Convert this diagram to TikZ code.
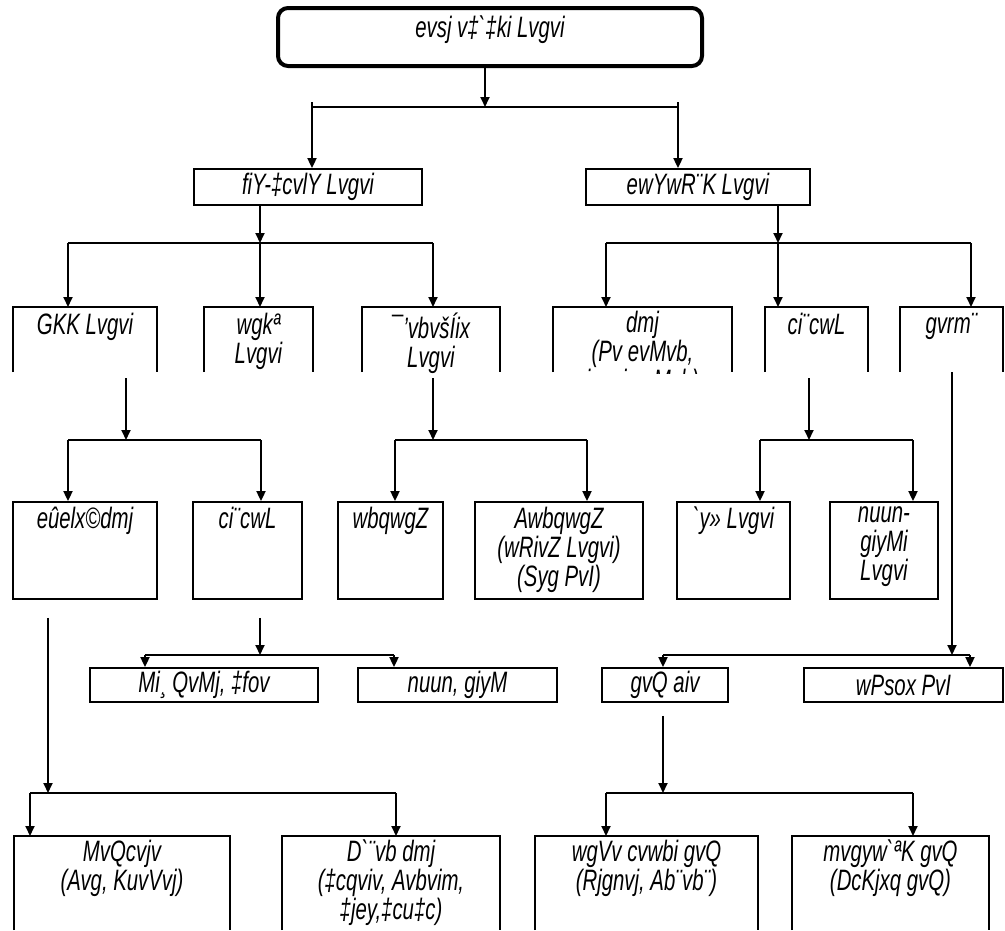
\documentclass[tikz,border=0pt]{standalone}
\usepackage{fontspec}
\newfontfamily\khamarfont{Liberation Sans}[FakeStretch=0.69,Ligatures=TeXOff]
\usetikzlibrary{arrows.meta}

\begin{document}
\begin{tikzpicture}[
    x=1pt, y=-1pt,
    every node/.style={font=\khamarfont\itshape\fontsize{29.5}{29}\selectfont},
    frame/.style={draw, line width=1.8pt, inner sep=0pt, align=center},
    openbox/.style={inner sep=0pt, outer sep=0pt},
    caption/.style={anchor=north, align=center, inner sep=0pt, inner ysep=5.5pt, execute at begin node=\strut},
    flow/.style={-{Triangle[length=10pt,width=9pt]}, line width=1.8pt},
    edge/.style={line width=1.8pt}
]
\useasboundingbox (0,0) rectangle (1005,930);

% top
\node[frame, line width=4pt, rounded corners=10pt, minimum width=424pt, minimum height=58pt] (desh) at (490,37) {};
\node[caption, inner ysep=10pt] at (desh.north) {evsj v‡`‡ki Lvgvi};

% level 2
\node[frame, minimum width=228pt, minimum height=36pt] (bhoron) at (308,187) {fiY-‡cvlY Lvgvi};
\node[frame, minimum width=224pt, minimum height=36pt] (banijjik) at (698,187) {ewYwR¨K Lvgvi};

% level 3 (open at the bottom)
\node[openbox, minimum width=144pt, minimum height=65pt] (ekok) at (85,339.5) {};
\node[openbox, minimum width=109pt, minimum height=65pt] (mishro) at (258.5,339.5) {};
\node[openbox, minimum width=138pt, minimum height=65pt] (sthan) at (431,339.5) {};
\node[openbox, minimum width=179pt, minimum height=65pt] (fosol) at (642.5,339.5) {};
\node[openbox, minimum width=103pt, minimum height=65pt] (poshu) at (816.5,339.5) {};
\node[openbox, minimum width=103pt, minimum height=65pt] (matsya) at (951.5,339.5) {};
\begin{scope}
\clip (0,0) rectangle (1005,373);
\node[caption] at (ekok.north) {GKK Lvgvi};
\node[caption] at (mishro.north) {wgkª\\Lvgvi};
\node[caption] at (sthan.north) {¯’vbvšÍix\\Lvgvi};
\node[caption, inner ysep=4pt] at (fosol.north) {dmj\\(Pv evMvb,\\ivevi evMvb)};
\node[caption] at (poshu.north) {ci¨cwL};
\node[caption] at (matsya.north) {gvrm¨};
\end{scope}

% level 4
\node[frame, minimum width=144pt, minimum height=97pt] (bohu) at (85,550.5) {};
\node[frame, minimum width=109pt, minimum height=97pt] (pranee) at (247.5,550.5) {};
\node[frame, minimum width=105pt, minimum height=97pt] (niyom) at (390.5,550.5) {};
\node[frame, minimum width=168pt, minimum height=97pt] (oniyom) at (559,550.5) {};
\node[frame, minimum width=113pt, minimum height=97pt] (dugdho) at (733.5,550.5) {};
\node[frame, minimum width=108pt, minimum height=97pt] (hash) at (884,550.5) {};
\node[caption] at (bohu.north) {eûelx©dmj};
\node[caption] at (pranee.north) {ci¨cwL};
\node[caption] at (niyom.north) {wbqwgZ};
\node[caption] at (oniyom.north) {AwbqwgZ\\(wRivZ Lvgvi)\\(Syg PvI)};
\node[caption] at (dugdho.north) {`y» Lvgvi};
\node[caption] at (hash.north) {nuun-\\giyMi\\Lvgvi};

% level 5
\node[frame, minimum width=228pt, minimum height=34pt] (gobadi) at (204,685) {Mi¸ QvMj, ‡fov};
\node[frame, minimum width=199pt, minimum height=34pt] (murgi) at (457.5,685) {nuun, giyM};
\node[frame, minimum width=126pt, minimum height=34pt] (dhora) at (665,685) {gvQ aiv};
\node[frame, minimum width=199pt, minimum height=34pt] (chingri) at (903.5,685) {wPsox PvI};

% level 6 (open at the bottom)
\node[openbox, minimum width=216pt, minimum height=94pt] (gach) at (122,883) {};
\node[openbox, minimum width=218pt, minimum height=94pt] (udyan) at (391,883) {};
\node[openbox, minimum width=223pt, minimum height=94pt] (mitha) at (646.5,883) {};
\node[openbox, minimum width=197pt, minimum height=94pt] (samudrik) at (890.5,883) {};
\node[caption, inner ysep=4pt] at (gach.north) {MvQcvjv\\(Avg, KuvVvj)};
\node[caption, inner ysep=4pt] at (udyan.north) {D`¨vb dmj\\(‡cqviv, Avbvim,\\‡jey,‡cu‡c)};
\node[caption, inner ysep=4pt] at (mitha.north) {wgVv cvwbi gvQ\\(Rjgnvj, Ab¨vb¨)};
\node[caption, inner ysep=4pt] at (samudrik.north) {mvgyw`ªK gvQ\\(DcKjxq gvQ)};

\foreach \n in {ekok,mishro,sthan,fosol,poshu,matsya,gach,udyan,mitha,samudrik}
  \draw[edge] (\n.south west) |- (\n.north east) -- (\n.south east);

% junctions
\coordinate (j1) at (485,107);  \coordinate (j1l) at (312,107); \coordinate (j1r) at (678,107);
\coordinate (j2) at (260,243);  \coordinate (j2l) at (68,243);  \coordinate (j2r) at (433,243);
\coordinate (j3) at (778,243);  \coordinate (j3l) at (606,243); \coordinate (j3r) at (971,243);
\coordinate (j4) at (126,440);  \coordinate (j4l) at (68,440);  \coordinate (j4r) at (261,440);
\coordinate (j5) at (433,440);  \coordinate (j5l) at (395,440); \coordinate (j5r) at (587,440);
\coordinate (j6) at (809,440);  \coordinate (j6l) at (760,440); \coordinate (j6r) at (913,440);
\coordinate (j7) at (952,655);  \coordinate (j7l) at (663,655); \coordinate (j7r) at (970,655);
\coordinate (j8) at (260,655);  \coordinate (j8l) at (145,655); \coordinate (j8r) at (394,655);
\coordinate (j9) at (48,793);   \coordinate (j9l) at (30,793);  \coordinate (j9r) at (396,793);
\coordinate (j10) at (663,793); \coordinate (j10l) at (606,793); \coordinate (j10r) at (913,793);

% connectors
\draw[flow] (j1 |- desh.south) -- (j1);
\draw[edge] (j1l) -- (j1r);
\draw[flow] ([yshift=5pt]j1l) -- (j1l |- bhoron.north);
\draw[flow] ([yshift=5pt]j1r) -- (j1r |- banijjik.north);

\draw[flow] (j2 |- bhoron.south) -- (j2);
\draw[edge] (j2l) -- (j2r);
\draw[flow] (j2l) -- (j2l |- ekok.north);
\draw[flow] (j2) -- (j2 |- mishro.north);
\draw[flow] (j2r) -- (j2r |- sthan.north);

\draw[flow] (j3 |- banijjik.south) -- (j3);
\draw[edge] (j3l) -- (j3r);
\draw[flow] (j3l) -- (j3l |- fosol.north);
\draw[flow] (j3) -- (j3 |- poshu.north);
\draw[flow] (j3r) -- (j3r |- matsya.north);

\draw[flow] ([yshift=-6pt]j4 |- ekok.south) -- (j4);
\draw[edge] (j4l) -- (j4r);
\draw[flow] (j4l) -- (j4l |- bohu.north);
\draw[flow] (j4r) -- (j4r |- pranee.north);

\draw[flow] ([yshift=-6pt]j5 |- sthan.south) -- (j5);
\draw[edge] (j5l) -- (j5r);
\draw[flow] (j5l) -- (j5l |- niyom.north);
\draw[flow] (j5r) -- (j5r |- oniyom.north);

\draw[flow] ([yshift=-6pt]j6 |- poshu.south) -- (j6);
\draw[edge] (j6l) -- (j6r);
\draw[flow] (j6l) -- (j6l |- dugdho.north);
\draw[flow] (j6r) -- (j6r |- hash.north);

\draw[flow] (j7 |- matsya.south) -- (j7);
\draw[edge] (j7l) -- (j7r);
\draw[flow] (j7l) -- (j7l |- dhora.north);
\draw[flow] (j7r) -- (j7r |- chingri.north);

\draw[flow] ([yshift=-18pt]j8 |- pranee.south) -- (j8);
\draw[edge] (j8l) -- (j8r);
\draw[flow] (j8l) -- (j8l |- gobadi.north);
\draw[flow] (j8r) -- (j8r |- murgi.north);

\draw[flow] ([yshift=-18pt]j9 |- bohu.south) -- (j9);
\draw[edge] (j9l) -- (j9r);
\draw[flow] (j9l) -- (j9l |- gach.north);
\draw[flow] (j9r) -- (j9r |- udyan.north);

\draw[flow] ([yshift=-13pt]j10 |- dhora.south) -- (j10);
\draw[edge] (j10l) -- (j10r);
\draw[flow] (j10l) -- (j10l |- mitha.north);
\draw[flow] (j10r) -- (j10r |- samudrik.north);
\end{tikzpicture}
\end{document}
